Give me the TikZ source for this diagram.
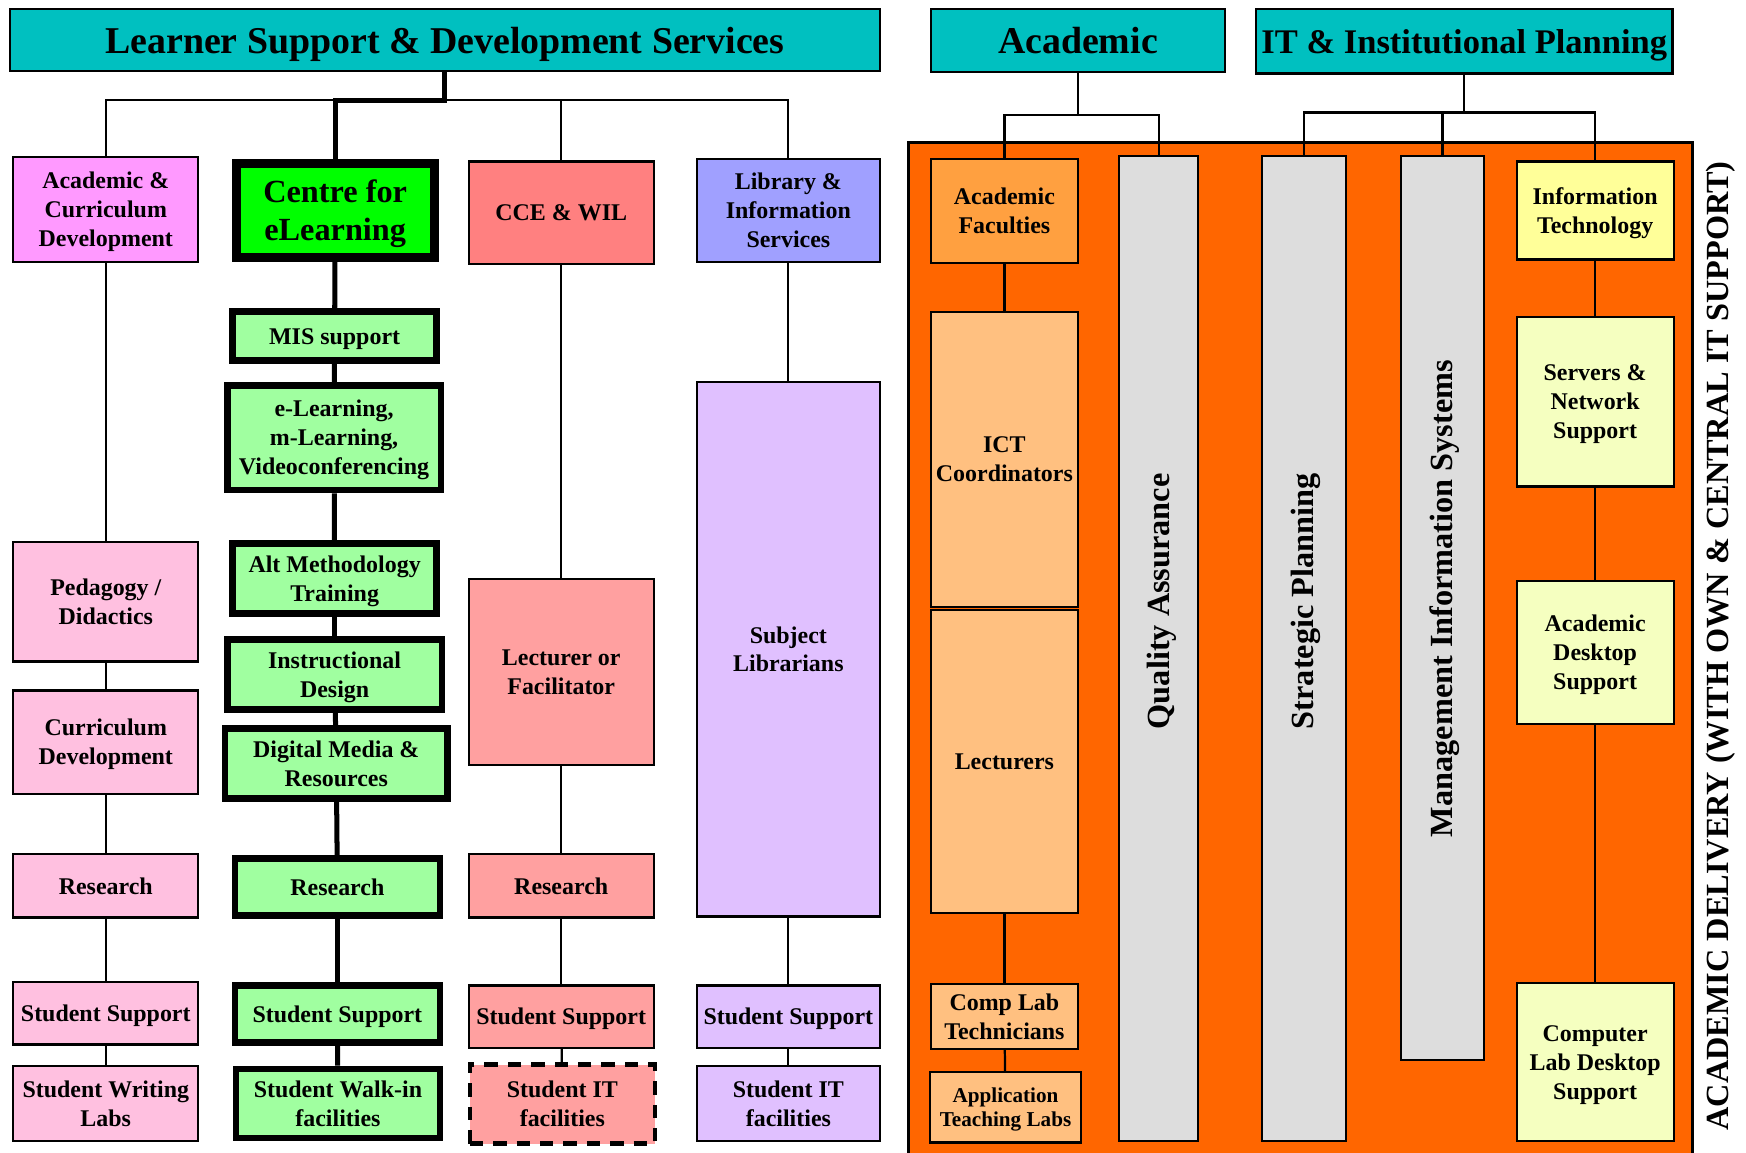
\documentclass[tikz,border=0pt]{standalone}
\usepackage{fontspec}
\setmainfont{Liberation Serif}
\usepackage{tikz}
\definecolor{tealhd}{HTML}{00C0C0}
\definecolor{acdpink}{HTML}{FF99FF}
\definecolor{pinkl}{HTML}{FFC0E0}
\definecolor{celgreen}{HTML}{00FF00}
\definecolor{greenl}{HTML}{A0FFA0}
\definecolor{ccered}{HTML}{FF8080}
\definecolor{salmonl}{HTML}{FFA0A0}
\definecolor{libblue}{HTML}{A0A0FF}
\definecolor{lavl}{HTML}{E0C0FF}
\definecolor{frameor}{HTML}{FF6600}
\definecolor{facor}{HTML}{FFA040}
\definecolor{orl}{HTML}{FFC080}
\definecolor{bargrey}{HTML}{DDDDDD}
\definecolor{ityel}{HTML}{FFFF99}
\definecolor{yell}{HTML}{F5FFC0}
\tikzset{
x=1pt, y=-1pt,
head/.style={draw,fill=tealhd,line width=2pt,inner sep=0pt,text depth=0pt,font=\bfseries\fontsize{34}{40}\selectfont},
box/.style={draw,line width=2pt,align=center,inner sep=1pt,text depth=0pt,font=\bfseries\fontsize{21.5}{26}\selectfont},
gbox/.style={box,fill=greenl,line width=6pt},
bar/.style={draw,fill=bargrey,line width=2pt},
vtext/.style={rotate=90,font=\bfseries\fontsize{29}{34}\selectfont},
conn/.style={line width=2pt},
thickconn/.style={line width=4.5pt}}
\begin{document}
\begin{tikzpicture}

\useasboundingbox (0,0) rectangle (1568,1035);

\fill[frameor] (816,128) rectangle (1520,1040);
\draw[line width=3pt] (816,1040) -- (816,128) -- (1520,128) -- (1520,1040);

\node[head,minimum width=781pt,minimum height=56pt] (lsds) at (399.5,36) {Learner Support \& Development Services};
\node[head,minimum width=264pt,minimum height=57pt] (acad) at (968,36.5) {Academic};
\node[head,minimum width=374pt,minimum height=58pt,font=\bfseries\fontsize{31}{36}\selectfont] (itip) at (1315,37) {IT \& Institutional Planning};

\node[box,fill=acdpink,minimum width=166pt,minimum height=94pt] (acd) at (95,188) {Academic \&\\Curriculum\\Development};
\node[box,fill=pinkl,minimum width=166pt,minimum height=107pt] (ped) at (95,540.5) {Pedagogy /\\Didactics};
\node[box,fill=pinkl,minimum width=166pt,minimum height=93pt] (cur) at (95,666.5) {Curriculum\\Development};
\node[box,fill=pinkl,minimum width=166pt,minimum height=57pt] (res1) at (95,795.5) {Research};
\node[box,fill=pinkl,minimum width=166pt,minimum height=56pt] (ss1) at (95,910) {Student Support};
\node[box,fill=pinkl,minimum width=166pt,minimum height=68pt] (swl) at (95,991) {Student Writing\\Labs};

\node[gbox,fill=celgreen,line width=8pt,minimum width=178pt,minimum height=84pt,font=\bfseries\fontsize{29}{34}\selectfont] (cel) at (301,189) {Centre for\\eLearning};
\node[gbox,minimum width=183pt,minimum height=44pt] (mis2) at (300.5,302) {MIS support};
\node[gbox,minimum width=192pt,minimum height=94pt] (elm) at (300,393) {e-Learning,\\m-Learning,\\Videoconferencing};
\node[gbox,minimum width=183pt,minimum height=63pt] (alt) at (300.5,519.5) {Alt Methodology\\Training};
\node[gbox,minimum width=193pt,minimum height=63pt] (ins) at (300.5,605.5) {Instructional\\Design};
\node[gbox,minimum width=200pt,minimum height=63pt] (dig) at (302,685.5) {Digital Media \&\\Resources};
\node[gbox,minimum width=184pt,minimum height=51pt] (res2) at (303,796.5) {Research};
\node[gbox,minimum width=184pt,minimum height=51pt] (ss2) at (303,910.5) {Student Support};
\node[gbox,minimum width=183pt,minimum height=62pt] (swi) at (303.5,991) {Student Walk-in\\facilities};

\node[box,fill=ccered,minimum width=166pt,minimum height=92pt] (cce) at (504,191) {CCE \& WIL};
\node[box,fill=salmonl,minimum width=166pt,minimum height=167pt] (lof) at (504,603.5) {Lecturer or\\Facilitator};
\node[box,fill=salmonl,minimum width=166pt,minimum height=57pt] (res3) at (504,795.5) {Research};
\node[box,fill=salmonl,minimum width=166pt,minimum height=56pt] (ss3) at (504,913) {Student Support};
\node[box,fill=salmonl,line width=4pt,dash pattern=on 12pt off 9pt,minimum width=166pt,minimum height=71pt] (sit3) at (505,991.5) {Student IT\\facilities};

\node[box,fill=libblue,minimum width=164pt,minimum height=92pt] (lib) at (708,189) {Library \&\\Information\\Services};
\node[box,fill=lavl,minimum width=164pt,minimum height=480pt] (sl) at (708,583) {Subject\\Librarians};
\node[box,fill=lavl,minimum width=164pt,minimum height=56pt] (ss4) at (708,913) {Student Support};
\node[box,fill=lavl,minimum width=164pt,minimum height=68pt] (sit4) at (708,991) {Student IT\\facilities};

\node[box,fill=facor,minimum width=132pt,minimum height=93pt] (af) at (902,189.5) {Academic\\Faculties};
\node[box,fill=orl,minimum width=132pt,minimum height=265pt] (ict) at (902,412.5) {ICT\\Coordinators};
\node[box,fill=orl,minimum width=132pt,minimum height=272pt] (lec) at (902,684) {Lecturers};
\node[box,fill=orl,minimum width=132pt,minimum height=58pt] (clt) at (902,913) {Comp Lab\\Technicians};
\node[box,fill=orl,minimum width=136pt,minimum height=63pt,font=\bfseries\fontsize{19}{22}\selectfont] (atl) at (903,994.5) {Application\\Teaching Labs};

\node[bar,minimum width=71pt,minimum height=885pt] (qa) at (1040.5,582.5) {};
\node[bar,minimum width=76pt,minimum height=885pt] (sp) at (1171,582.5) {};
\node[bar,minimum width=75pt,minimum height=812pt] (mis) at (1295.5,546) {};
\node[vtext] (qat) at (1043,540) {Quality Assurance};
\node[vtext] (spt) at (1173,540) {Strategic Planning};
\node[vtext] (mist) at (1297,537.5) {Management Information Systems};

\node[box,fill=ityel,minimum width=141pt,minimum height=88pt] (it) at (1432.5,189) {Information\\Technology};
\node[box,fill=yell,minimum width=141pt,minimum height=152pt] (sns) at (1432.5,361) {Servers \&\\Network\\Support};
\node[box,fill=yell,minimum width=141pt,minimum height=128pt] (ads) at (1432.5,586) {Academic\\Desktop\\Support};
\node[box,fill=yell,minimum width=141pt,minimum height=142pt] (clds) at (1432.5,954) {Computer\\Lab Desktop\\Support};

\node[vtext] (adel) at (1545,580) {ACADEMIC DELIVERY (WITH OWN \& CENTRAL IT SUPPORT)};

\coordinate (j) at (lsds.south |- 0,90);
\coordinate (ja) at (acad.south |- 0,103);
\coordinate (ji) at (itip.south |- 0,101);

\draw[conn] (acd.north) -- (acd.north |- j) -| (lib.north);
\draw[conn] (cce.north) -- (cce.north |- j);
\draw[thickconn] (lsds.south) -- (j) -| (cel.north);
\draw[conn] (acad.south) -- (ja);
\draw[conn] (af.north) -- (af.north |- ja) -| (qa.north);
\draw[conn] (itip.south) -- (ji);
\draw[conn] (sp.north) -- (sp.north |- ji) -| (it.north);
\draw[conn] (mis.north) -- (mis.north |- ji);

\path[conn]
	(acd) edge (ped)
	(ped) edge (cur)
	(cur) edge (res1)
	(res1) edge (ss1)
	(ss1) edge (swl);
\path[thickconn]
	(cel) edge (mis2)
	(mis2) edge (elm)
	(elm) edge (alt)
	(alt) edge (ins)
	(ins) edge (dig)
	(dig) edge (res2)
	(res2) edge (ss2)
	(ss2) edge (swi);
\path[conn]
	(cce) edge (lof)
	(lof) edge (res3)
	(res3) edge (ss3)
	(ss3) edge (sit3)
	(lib) edge (sl)
	(sl) edge (ss4)
	(ss4) edge (sit4);
\path[conn]
	(af) edge (ict)
	(lec) edge (clt)
	(clt) edge (atl)
	(it) edge (sns)
	(sns) edge (ads)
	(ads) edge (clds);
\end{tikzpicture}
\end{document}
